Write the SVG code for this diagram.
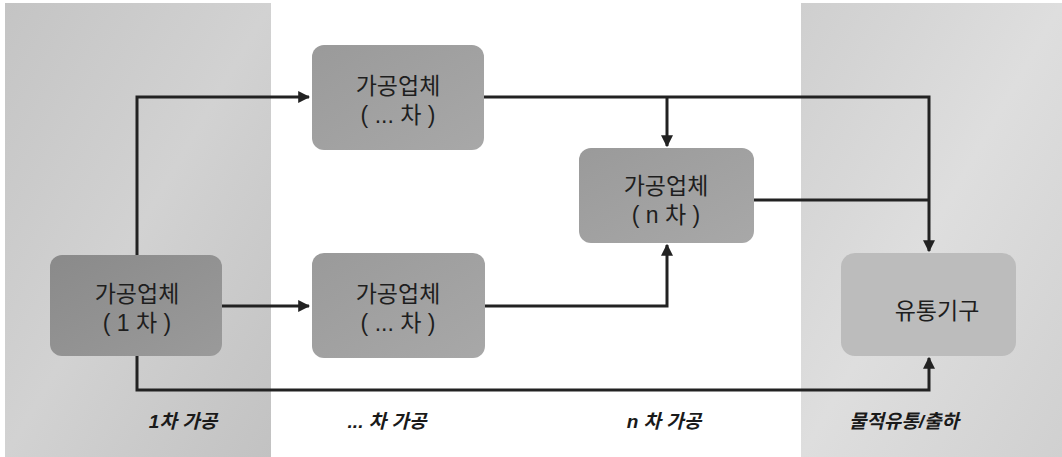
<svg xmlns="http://www.w3.org/2000/svg" width="1062" height="457" viewBox="0 0 1062 457">
<defs>
<style>
.node-text{font-family:"Liberation Sans","Noto Sans CJK KR",sans-serif;font-size:23px;fill:#1e1e1e;text-anchor:middle}
.stage{font-family:"Liberation Sans","Noto Sans CJK KR",sans-serif;font-size:19px;font-weight:bold;font-style:italic;fill:#1a1a1a;text-anchor:middle}
.conn{fill:none;stroke:#222;stroke-width:3;stroke-linejoin:miter}
</style>
<marker id="arr" viewBox="0 0 10 10" refX="9" refY="5" markerWidth="4" markerHeight="4" orient="auto" markerUnits="strokeWidth">
<path d="M0,0 L10,5 L0,10 Z" fill="#222"/>
</marker>
<linearGradient id="bandL" x1="0" y1="0" x2="1" y2="1">
<stop offset="0" stop-color="#c4c4c4"/><stop offset="0.5" stop-color="#d2d2d2"/><stop offset="1" stop-color="#c2c2c2"/>
</linearGradient>
<linearGradient id="bandR" x1="0" y1="0" x2="1" y2="1">
<stop offset="0" stop-color="#cfcfcf"/><stop offset="0.5" stop-color="#dedede"/><stop offset="1" stop-color="#d0d0d0"/>
</linearGradient>
<linearGradient id="nodeDark" x1="0" y1="0" x2="1" y2="1">
<stop offset="0" stop-color="#8a8a8a"/><stop offset="1" stop-color="#9a9a9a"/>
</linearGradient>
<linearGradient id="nodeMid" x1="0" y1="0" x2="1" y2="1">
<stop offset="0" stop-color="#9a9a9a"/><stop offset="1" stop-color="#a8a8a8"/>
</linearGradient>
</defs>
<rect x="0" y="0" width="1062" height="457" fill="#ffffff"/>
<rect x="5" y="3" width="266" height="454" fill="url(#bandL)"/>
<rect x="801" y="3" width="261" height="454" fill="url(#bandR)"/>

<g id="connectors">
<path class="conn" d="M137,255 V97 H309" marker-end="url(#arr)"/>
<path class="conn" d="M484,97 H929 V251" marker-end="url(#arr)"/>
<path class="conn" d="M667,97 V146" marker-end="url(#arr)"/>
<path class="conn" d="M754,200 H929"/>
<path class="conn" d="M222,306 H309" marker-end="url(#arr)"/>
<path class="conn" d="M485,306 H667 V245" marker-end="url(#arr)"/>
<path class="conn" d="M137,356 V390 H929 V358" marker-end="url(#arr)"/>
</g>

<g id="node-1">
<rect x="50" y="255" width="172" height="101" rx="12" fill="url(#nodeDark)"/>
<text class="node-text" x="137" y="302">가공업체</text>
<text class="node-text" x="137" y="331">( 1 차 )</text>
</g>
<g id="node-top">
<rect x="312" y="45" width="172" height="105" rx="12" fill="url(#nodeMid)"/>
<text class="node-text" x="398" y="94">가공업체</text>
<text class="node-text" x="398" y="123">( ... 차 )</text>
</g>
<g id="node-bottom">
<rect x="312" y="253" width="173" height="105" rx="12" fill="url(#nodeMid)"/>
<text class="node-text" x="398" y="302">가공업체</text>
<text class="node-text" x="398" y="331">( ... 차 )</text>
</g>
<g id="node-n">
<rect x="579" y="148" width="175" height="95" rx="12" fill="url(#nodeMid)"/>
<text class="node-text" x="666" y="194">가공업체</text>
<text class="node-text" x="666" y="223">( n 차 )</text>
</g>
<g id="node-dist">
<rect x="841" y="253" width="175" height="103" rx="14" fill="#bcbcbc"/>
<text class="node-text" x="937" y="319">유통기구</text>
</g>

<g id="stage-labels">
<text class="stage" x="183" y="428">1차 가공</text>
<text class="stage" x="387" y="428">... 차 가공</text>
<text class="stage" x="664" y="428">n 차 가공</text>
<text class="stage" x="904" y="428">물적유통/출하</text>
</g>
</svg>
